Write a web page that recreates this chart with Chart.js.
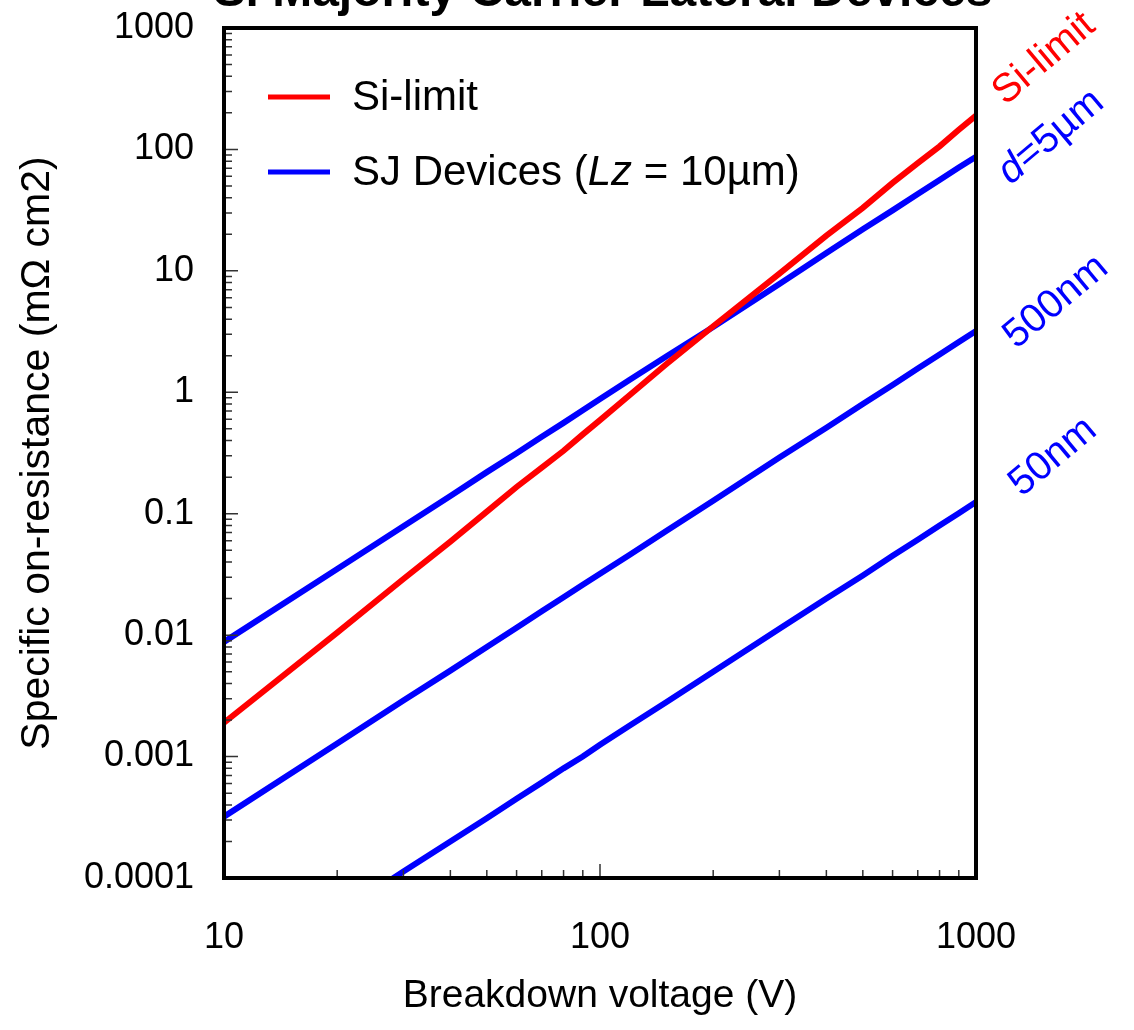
<!DOCTYPE html>
<html>
<head>
<meta charset="utf-8">
<script src="https://cdn.jsdelivr.net/npm/chart.js@4.4.1/dist/chart.umd.min.js"></script>
<style>
  html, body { margin: 0; padding: 0; background: #fff; }
  #wrap { width: 1134px; height: 1030px; }
</style>
</head>
<body>
<div id="wrap"><canvas id="chart" width="1134" height="1030"></canvas></div>
<script>
// Breakdown voltage (V)
const voltages = [10, 20, 30, 40, 50, 60, 70, 80, 90, 100, 120, 150, 200, 300, 400, 500, 600, 700, 800, 900, 1000];
// Specific on-resistance (mOhm cm2)
const siLimit = [0.0019, 0.0105, 0.029, 0.059, 0.104, 0.166, 0.24, 0.33, 0.45, 0.59, 0.95, 1.7, 3.5, 9.5, 19.5, 33, 53, 77, 106, 145, 190];
const sj5um   = [0.0088, 0.035, 0.079, 0.14, 0.22, 0.315, 0.43, 0.56, 0.71, 0.88, 1.27, 1.97, 3.45, 7.8, 14, 22, 31.5, 43, 56, 71, 87];
const sj500nm = [0.00032, 0.00128, 0.0029, 0.0051, 0.008, 0.0115, 0.0157, 0.0205, 0.026, 0.032, 0.046, 0.072, 0.128, 0.29, 0.51, 0.8, 1.15, 1.57, 2.05, 2.6, 3.2];
const sj50nm  = [0.0000125, 0.00005, 0.000113, 0.0002, 0.00031, 0.00045, 0.00061, 0.0008, 0.001, 0.00125, 0.0018, 0.0028, 0.005, 0.0113, 0.02, 0.031, 0.045, 0.061, 0.08, 0.101, 0.125];

const xTicks = [10, 100, 1000];
const xTickLabels = ['10', '100', '1000'];
const yTicks = [0.0001, 0.001, 0.01, 0.1, 1, 10, 100, 1000];
const yTickLabels = ['0.0001', '0.001', '0.01', '0.1', '1', '10', '100', '1000'];

const FONT = "'Liberation Sans', Arial, Helvetica, sans-serif";
const RED = '#ff0000';
const BLUE = '#0000ff';

function toPoints(ys) {
  return voltages.map((v, i) => ({ x: v, y: ys[i] }));
}

function series(label, ys, color) {
  return {
    label: label,
    data: toPoints(ys),
    borderColor: color,
    backgroundColor: color,
    borderWidth: 6,
    pointRadius: 0,
    showLine: true,
    tension: 0
  };
}

// draw a run of text pieces (some italic) rotated about a centre point
function drawRotated(ctx, parts, cx, cy, angle, size, color) {
  ctx.save();
  ctx.translate(cx, cy);
  ctx.rotate(angle);
  ctx.fillStyle = color;
  ctx.textBaseline = 'middle';
  ctx.textAlign = 'left';
  let total = 0;
  parts.forEach(p => {
    ctx.font = (p.italic ? 'italic ' : '') + size + 'px ' + FONT;
    total += ctx.measureText(p.text).width;
  });
  let xpos = -total / 2;
  parts.forEach(p => {
    ctx.font = (p.italic ? 'italic ' : '') + size + 'px ' + FONT;
    ctx.fillText(p.text, xpos, 0);
    xpos += ctx.measureText(p.text).width;
  });
  ctx.restore();
}

const decorations = {
  id: 'decorations',
  afterDatasetsDraw(chart) {
    const { ctx, chartArea: a, scales: { x, y } } = chart;
    ctx.save();

    // inner ticks on bottom and left axes
    ctx.strokeStyle = '#333';
    ctx.lineWidth = 1.5;
    ctx.beginPath();
    for (let d = 10; d < 1000; d *= 10) {
      for (let k = 1; k < 10; k++) {
        const px = x.getPixelForValue(d * k);
        const len = k === 1 ? 14 : 8;
        ctx.moveTo(px, a.bottom);
        ctx.lineTo(px, a.bottom - len);
      }
    }
    for (let e = -4; e < 3; e++) {
      const d = Math.pow(10, e);
      for (let k = 1; k < 10; k++) {
        const py = y.getPixelForValue(d * k);
        const len = k === 1 ? 14 : 8;
        ctx.moveTo(a.left, py);
        ctx.lineTo(a.left + len, py);
      }
    }
    ctx.stroke();

    // plot frame
    ctx.strokeStyle = '#000';
    ctx.lineWidth = 4;
    ctx.strokeRect(a.left, a.top, a.right - a.left, a.bottom - a.top);

    // legend
    ctx.lineWidth = 5;
    ctx.strokeStyle = RED;
    ctx.beginPath();
    ctx.moveTo(a.left + 44, 97);
    ctx.lineTo(a.left + 106, 97);
    ctx.stroke();
    ctx.strokeStyle = BLUE;
    ctx.beginPath();
    ctx.moveTo(a.left + 44, 172);
    ctx.lineTo(a.left + 106, 172);
    ctx.stroke();

    ctx.fillStyle = '#000';
    ctx.textBaseline = 'middle';
    ctx.textAlign = 'left';
    ctx.font = '42px ' + FONT;
    ctx.fillText('Si-limit', a.left + 128, 98);

    const legendParts = [
      { text: 'SJ Devices (' },
      { text: 'Lz', italic: true },
      { text: ' = 10µm)' }
    ];
    let lx = a.left + 128;
    legendParts.forEach(p => {
      ctx.font = (p.italic ? 'italic ' : '') + '42px ' + FONT;
      ctx.fillText(p.text, lx, 173);
      lx += ctx.measureText(p.text).width;
    });

    // title, cut off at the top edge
    ctx.font = 'bold 48px ' + FONT;
    ctx.textAlign = 'center';
    ctx.textBaseline = 'alphabetic';
    ctx.fillText('Si Majority Carrier Lateral Devices', 603, 6);

    // curve labels on the right
    const ang = -40 * Math.PI / 180;
    drawRotated(ctx, [{ text: 'Si-limit' }], a.right + 68, 59, ang, 40, RED);
    drawRotated(ctx, [{ text: 'd', italic: true }, { text: '=5µm' }], a.right + 75, 137, ang, 40, BLUE);
    drawRotated(ctx, [{ text: '500nm' }], a.right + 80, 302, ang, 40, BLUE);
    drawRotated(ctx, [{ text: '50nm' }], a.right + 77, 457, ang, 40, BLUE);

    ctx.restore();
  }
};

new Chart(document.getElementById('chart'), {
  type: 'scatter',
  data: {
    datasets: [
      series('Si-limit', siLimit, RED),
      series('d=5µm', sj5um, BLUE),
      series('500nm', sj500nm, BLUE),
      series('50nm', sj50nm, BLUE)
    ]
  },
  options: {
    responsive: false,
    animation: false,
    layout: { padding: { top: 28, right: 158, left: 0, bottom: 0 } },
    plugins: {
      legend: { display: false },
      tooltip: { enabled: false }
    },
    scales: {
      x: {
        type: 'logarithmic',
        min: 10,
        max: 1000,
        afterFit(scale) {
          scale.height = 152;
          scale.paddingLeft = 0;
          scale.paddingRight = 0;
        },
        afterBuildTicks(scale) { scale.ticks = xTicks.map(v => ({ value: v })); },
        grid: { display: false, drawTicks: false },
        border: { display: false },
        ticks: {
          autoSkip: false,
          maxRotation: 0,
          padding: 38,
          color: '#000',
          font: { family: FONT, size: 36 },
          callback: (v, i) => xTickLabels[i]
        },
        title: {
          display: true,
          text: 'Breakdown voltage (V)',
          color: '#000',
          font: { family: FONT, size: 39 },
          padding: { top: 0, bottom: 10 }
        }
      },
      y: {
        type: 'logarithmic',
        min: 0.0001,
        max: 1000,
        afterFit(scale) {
          scale.width = 224;
          scale.paddingTop = 0;
          scale.paddingBottom = 0;
        },
        afterBuildTicks(scale) { scale.ticks = yTicks.map(v => ({ value: v })); },
        grid: { display: false, drawTicks: false },
        border: { display: false },
        ticks: {
          autoSkip: false,
          padding: 30,
          color: '#000',
          font: { family: FONT, size: 36 },
          callback: (v, i) => yTickLabels[i]
        },
        title: {
          display: true,
          text: 'Specific on-resistance (mΩ cm2)',
          color: '#000',
          font: { family: FONT, size: 41 },
          padding: { top: 13, bottom: 0 }
        }
      }
    }
  },
  plugins: [decorations]
});
</script>
</body>
</html>
